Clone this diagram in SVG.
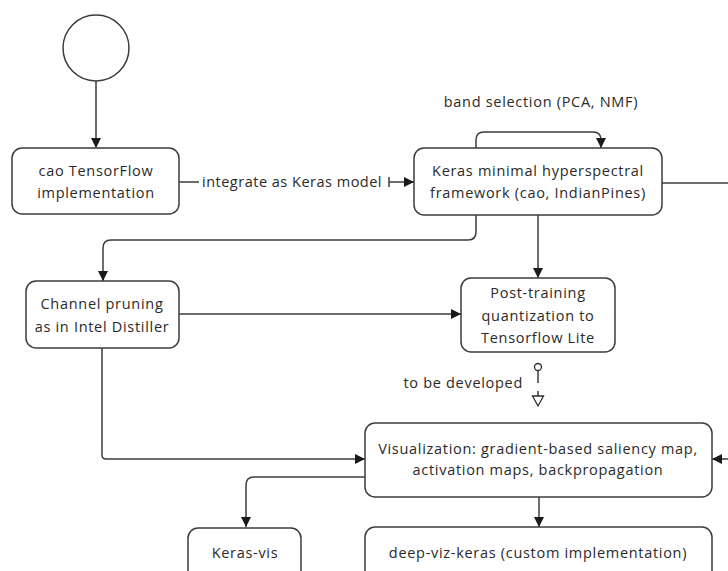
<svg xmlns="http://www.w3.org/2000/svg" width="728" height="571" viewBox="0 0 728 571">
  <defs>
    <marker id="arrow" viewBox="0 0 10 10" refX="10" refY="5" markerWidth="10" markerHeight="10" markerUnits="userSpaceOnUse" orient="auto">
      <path d="M0,0 L10,5 L0,10 Z" fill="#1a1a1a"/>
    </marker>
  </defs>
  <style>
    .node { fill: #ffffff; stroke: #3c3c3c; stroke-width: 1.5; }
    .edge { fill: none; stroke: #3c3c3c; stroke-width: 1.5; }
    .txt { font-family: "Open Sans", "Liberation Sans", sans-serif; font-size: 14.5px; letter-spacing: 0.7px; fill: #2a2a2a; text-anchor: middle; }
    .lbl { font-family: "Open Sans", "Liberation Sans", sans-serif; font-size: 14.5px; letter-spacing: 0.5px; fill: #2a2a2a; }
  </style>
  <rect width="728" height="571" fill="#ffffff"/>

  <!-- connectors -->
  <g id="connectors">
    <!-- start to TensorFlow implementation -->
    <line class="edge" x1="96" y1="81" x2="96" y2="148" marker-end="url(#arrow)"/>
    <!-- integrate as Keras model -->
    <line class="edge" x1="179" y1="182" x2="199" y2="182"/>
    <line class="edge" x1="389" y1="182" x2="414" y2="182" marker-end="url(#arrow)"/>
    <line class="edge" x1="389" y1="177" x2="389" y2="187"/>
    <text class="lbl" x="202" y="187">integrate as Keras model</text>
    <!-- band selection self loop -->
    <path class="edge" d="M476,148 V140 Q476,132 484,132 H593 Q601,132 601,140 V148" marker-end="url(#arrow)"/>
    <text class="txt" x="541" y="107">band selection (PCA, NMF)</text>
    <!-- keras framework to right side -->
    <line class="edge" x1="662" y1="183" x2="728" y2="183"/>
    <!-- keras framework to channel pruning -->
    <path class="edge" d="M476,215 V232 Q476,240 468,240 H111 Q103,240 103,248 V281" marker-end="url(#arrow)"/>
    <!-- keras framework to quantization -->
    <line class="edge" x1="538" y1="215" x2="538" y2="278" marker-end="url(#arrow)"/>
    <!-- channel pruning to quantization -->
    <line class="edge" x1="179" y1="314" x2="461" y2="314" marker-end="url(#arrow)"/>
    <!-- channel pruning to visualization -->
    <path class="edge" d="M102,348 V455 Q102,459 106,459 H365" marker-end="url(#arrow)"/>
    <!-- right side to visualization -->
    <line class="edge" x1="728" y1="459" x2="712" y2="459" marker-end="url(#arrow)"/>
    <!-- to be developed -->
    <circle cx="538" cy="367" r="3.5" fill="#ffffff" stroke="#2a2a2a" stroke-width="1.3"/>
    <line class="edge" x1="538" y1="370.5" x2="538" y2="383"/>
    <line class="edge" x1="538" y1="391" x2="538" y2="396"/>
    <path d="M532.5,396 H543.5 L538,406 Z" fill="#ffffff" stroke="#2a2a2a" stroke-width="1.3"/>
    <text class="lbl" x="523" y="388" style="text-anchor:end;letter-spacing:0.7px">to be developed</text>
    <!-- visualization to keras-vis -->
    <path class="edge" d="M365,477 H254 Q246,477 246,485 V527" marker-end="url(#arrow)"/>
    <!-- visualization to deep-viz-keras -->
    <line class="edge" x1="539" y1="497" x2="539" y2="527" marker-end="url(#arrow)"/>
  </g>

  <g id="start">
    <circle cx="96" cy="48" r="33" fill="#ffffff" stroke="#3c3c3c" stroke-width="1.5"/>
  </g>

  <g id="tf-impl">
    <rect class="node" x="12" y="148" width="167" height="66" rx="10"/>
    <text class="txt" x="96" y="176">cao TensorFlow</text>
    <text class="txt" x="96" y="198">implementation</text>
  </g>

  <g id="keras-framework">
    <rect class="node" x="414" y="148" width="248" height="67" rx="10"/>
    <text class="txt" x="538" y="176">Keras minimal hyperspectral</text>
    <text class="txt" x="538" y="198">framework (cao, IndianPines)</text>
  </g>

  <g id="channel-pruning">
    <rect class="node" x="26" y="281" width="153" height="67" rx="10"/>
    <text class="txt" x="102" y="309">Channel pruning</text>
    <text class="txt" x="102" y="332">as in Intel Distiller</text>
  </g>

  <g id="quantization">
    <rect class="node" x="461" y="278" width="154" height="74" rx="10"/>
    <text class="txt" x="538" y="298">Post-training</text>
    <text class="txt" x="538" y="321">quantization to</text>
    <text class="txt" x="538" y="343">Tensorflow Lite</text>
  </g>

  <g id="visualization">
    <rect class="node" x="365" y="423" width="347" height="74" rx="10"/>
    <text class="txt" x="538" y="454">Visualization: gradient-based saliency map,</text>
    <text class="txt" x="538" y="475">activation maps, backpropagation</text>
  </g>

  <g id="keras-vis">
    <rect class="node" x="188" y="528" width="113" height="60" rx="10"/>
    <text class="txt" x="245" y="558">Keras-vis</text>
  </g>

  <g id="deep-viz-keras">
    <rect class="node" x="365" y="527" width="347" height="60" rx="10"/>
    <text class="txt" x="538" y="558">deep-viz-keras (custom implementation)</text>
  </g>
</svg>
